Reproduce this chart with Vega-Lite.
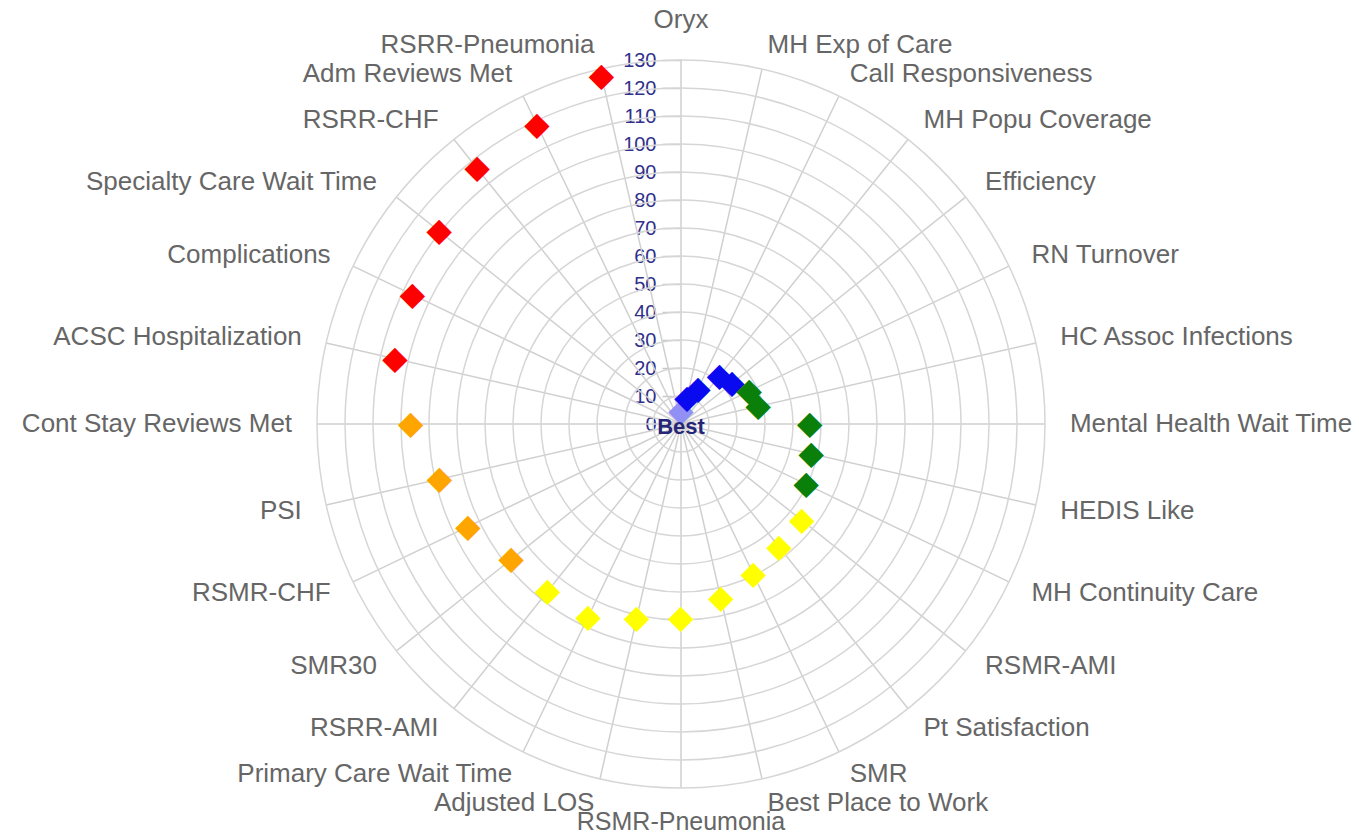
{
  "$schema": "https://vega.github.io/schema/vega-lite/v6.json",
  "width": 728,
  "height": 728,
  "autosize": {"type": "none"},
  "padding": {"left": 317, "top": 60, "right": 314, "bottom": 50},
  "background": "white",
  "config": {"view": {"stroke": null}},
  "datasets": {
    "measures": [
      {"idx": 0, "name": "Oryx", "value": 4.6, "tier": "Best"},
      {"idx": 1, "name": "MH Exp of Care", "value": 9.5, "tier": "Q1"},
      {"idx": 2, "name": "Call Responsiveness", "value": 14, "tier": "Q1"},
      {"idx": 3, "name": "MH Popu Coverage", "value": 22, "tier": "Q1"},
      {"idx": 4, "name": "Efficiency", "value": 23.3, "tier": "Q1"},
      {"idx": 5, "name": "RN Turnover", "value": 27, "tier": "Q2"},
      {"idx": 6, "name": "HC Assoc Infections", "value": 28.3, "tier": "Q2"},
      {"idx": 7, "name": "Mental Health Wait Time", "value": 46, "tier": "Q2"},
      {"idx": 8, "name": "HEDIS Like", "value": 47.7, "tier": "Q2"},
      {"idx": 9, "name": "MH Continuity Care", "value": 49.6, "tier": "Q2"},
      {"idx": 10, "name": "RSMR-AMI", "value": 55.2, "tier": "Q3"},
      {"idx": 11, "name": "Pt Satisfaction", "value": 56.3, "tier": "Q3"},
      {"idx": 12, "name": "SMR", "value": 59.6, "tier": "Q3"},
      {"idx": 13, "name": "Best Place to Work", "value": 63.9, "tier": "Q3"},
      {"idx": 14, "name": "RSMR-Pneumonia", "value": 69.4, "tier": "Q3"},
      {"idx": 15, "name": "Adjusted LOS", "value": 71.2, "tier": "Q3"},
      {"idx": 16, "name": "Primary Care Wait Time", "value": 76.4, "tier": "Q3"},
      {"idx": 17, "name": "RSRR-AMI", "value": 76.4, "tier": "Q3"},
      {"idx": 18, "name": "SMR30", "value": 77.6, "tier": "Q4"},
      {"idx": 19, "name": "RSMR-CHF", "value": 84.5, "tier": "Q4"},
      {"idx": 20, "name": "PSI", "value": 88.5, "tier": "Q4"},
      {"idx": 21, "name": "Cont Stay Reviews Met", "value": 96.5, "tier": "Q4"},
      {"idx": 22, "name": "ACSC Hospitalization", "value": 104.8, "tier": "Q5"},
      {"idx": 23, "name": "Complications", "value": 106.5, "tier": "Q5"},
      {"idx": 24, "name": "Specialty Care Wait Time", "value": 110.5, "tier": "Q5"},
      {"idx": 25, "name": "RSRR-CHF", "value": 116.8, "tier": "Q5"},
      {"idx": 26, "name": "Adm Reviews Met", "value": 118.5, "tier": "Q5"},
      {"idx": 27, "name": "RSRR-Pneumonia", "value": 127.5, "tier": "Q5"}
    ],
    "center": [{"label": "Best"}]
  },
  "layer": [
    {
      "data": {"name": "measures"},
      "mark": {"type": "arc", "filled": false, "stroke": "#d0d0d0", "strokeWidth": 1.5},
      "encoding": {
        "theta": {"field": "idx", "type": "quantitative", "stack": false, "scale": {"domain": [0, 28], "range": [0, 6.283185307179586]}},
        "theta2": {"field": "idx"},
        "radius": {"datum": 130, "type": "quantitative", "scale": {"type": "linear", "domain": [0, 130], "range": [0, 364], "nice": false, "zero": true}}
      }
    },
    {
      "data": {"name": "center"},
      "layer": [
        {"mark": {"type": "arc", "theta": 0, "theta2": 6.2832, "filled": false, "stroke": "#d6d6d6", "strokeWidth": 1.5}, "encoding": {"radius": {"datum": 10, "type": "quantitative"}}},
        {"mark": {"type": "arc", "theta": 0, "theta2": 6.2832, "filled": false, "stroke": "#d6d6d6", "strokeWidth": 1.5}, "encoding": {"radius": {"datum": 20, "type": "quantitative"}}},
        {"mark": {"type": "arc", "theta": 0, "theta2": 6.2832, "filled": false, "stroke": "#d6d6d6", "strokeWidth": 1.5}, "encoding": {"radius": {"datum": 30, "type": "quantitative"}}},
        {"mark": {"type": "arc", "theta": 0, "theta2": 6.2832, "filled": false, "stroke": "#d6d6d6", "strokeWidth": 1.5}, "encoding": {"radius": {"datum": 40, "type": "quantitative"}}},
        {"mark": {"type": "arc", "theta": 0, "theta2": 6.2832, "filled": false, "stroke": "#d6d6d6", "strokeWidth": 1.5}, "encoding": {"radius": {"datum": 50, "type": "quantitative"}}},
        {"mark": {"type": "arc", "theta": 0, "theta2": 6.2832, "filled": false, "stroke": "#d6d6d6", "strokeWidth": 1.5}, "encoding": {"radius": {"datum": 60, "type": "quantitative"}}},
        {"mark": {"type": "arc", "theta": 0, "theta2": 6.2832, "filled": false, "stroke": "#d6d6d6", "strokeWidth": 1.5}, "encoding": {"radius": {"datum": 70, "type": "quantitative"}}},
        {"mark": {"type": "arc", "theta": 0, "theta2": 6.2832, "filled": false, "stroke": "#d6d6d6", "strokeWidth": 1.5}, "encoding": {"radius": {"datum": 80, "type": "quantitative"}}},
        {"mark": {"type": "arc", "theta": 0, "theta2": 6.2832, "filled": false, "stroke": "#d6d6d6", "strokeWidth": 1.5}, "encoding": {"radius": {"datum": 90, "type": "quantitative"}}},
        {"mark": {"type": "arc", "theta": 0, "theta2": 6.2832, "filled": false, "stroke": "#d6d6d6", "strokeWidth": 1.5}, "encoding": {"radius": {"datum": 100, "type": "quantitative"}}},
        {"mark": {"type": "arc", "theta": 0, "theta2": 6.2832, "filled": false, "stroke": "#d6d6d6", "strokeWidth": 1.5}, "encoding": {"radius": {"datum": 110, "type": "quantitative"}}},
        {"mark": {"type": "arc", "theta": 0, "theta2": 6.2832, "filled": false, "stroke": "#d6d6d6", "strokeWidth": 1.5}, "encoding": {"radius": {"datum": 120, "type": "quantitative"}}},
        {"mark": {"type": "arc", "theta": 0, "theta2": 6.2832, "filled": false, "stroke": "#d6d6d6", "strokeWidth": 1.5}, "encoding": {"radius": {"datum": 130, "type": "quantitative"}}}
      ]
    },
    {
      "data": {"name": "measures"},
      "mark": {"type": "text", "font": "DejaVu Sans", "fontSize": 33, "align": "center", "baseline": "middle"},
      "encoding": {
        "theta": {"field": "idx", "type": "quantitative", "stack": false},
        "radius": {"field": "value", "type": "quantitative"},
        "text": {"value": "◆"},
        "color": {"field": "tier", "type": "nominal", "legend": null,
          "scale": {"domain": ["Best", "Q1", "Q2", "Q3", "Q4", "Q5"], "range": ["#9090f5", "#0a0af0", "#0a800a", "#ffff00", "#ffa500", "#ff0000"]}}
      }
    },
    {
      "data": {"name": "measures"},
      "transform": [{"filter": "datum.idx > 0 && datum.idx < 14"}],
      "mark": {"type": "text", "font": "Liberation Sans", "fontSize": 26, "align": "left", "baseline": "middle", "color": "#666666"},
      "encoding": {
        "theta": {"field": "idx", "type": "quantitative", "stack": false},
        "radius": {"datum": 138.9, "type": "quantitative"},
        "text": {"field": "name"}
      }
    },
    {
      "data": {"name": "measures"},
      "transform": [{"filter": "datum.idx > 14"}],
      "mark": {"type": "text", "font": "Liberation Sans", "fontSize": 26, "align": "right", "baseline": "middle", "color": "#666666"},
      "encoding": {
        "theta": {"field": "idx", "type": "quantitative", "stack": false},
        "radius": {"datum": 138.9, "type": "quantitative"},
        "text": {"field": "name"}
      }
    },
    {
      "data": {"name": "measures"},
      "transform": [{"filter": "datum.idx == 0"}],
      "mark": {"type": "text", "font": "Liberation Sans", "fontSize": 26, "align": "center", "baseline": "middle", "color": "#666666"},
      "encoding": {
        "theta": {"field": "idx", "type": "quantitative", "stack": false},
        "radius": {"datum": 144.3, "type": "quantitative"},
        "text": {"field": "name"}
      }
    },
    {
      "data": {"name": "measures"},
      "transform": [{"filter": "datum.idx == 14"}],
      "mark": {"type": "text", "font": "Liberation Sans", "fontSize": 25, "align": "center", "baseline": "middle", "color": "#666666"},
      "encoding": {
        "theta": {"field": "idx", "type": "quantitative", "stack": false},
        "radius": {"datum": 142.2, "type": "quantitative"},
        "text": {"field": "name"}
      }
    },
    {
      "data": {"name": "center"},
      "mark": {"type": "text", "font": "Liberation Sans", "fontSize": 22, "fontWeight": "bold", "color": "#262678", "align": "center", "baseline": "middle", "dy": 3},
      "encoding": {
        "text": {"field": "label"},
        "y": {"datum": 0, "type": "quantitative",
          "scale": {"domain": [-130, 130], "nice": false},
          "axis": {"values": [0, 10, 20, 30, 40, 50, 60, 70, 80, 90, 100, 110, 120, 130],
            "domain": false, "grid": false, "ticks": true, "tickSize": 19, "tickColor": "#c8c8c8", "tickWidth": 1.5,
            "labelColor": "#30308a", "labelFontSize": 20, "labelFont": "Liberation Sans", "labelPadding": 6,
            "labelOverlap": false, "labelFlush": false, "offset": -364, "title": null}}
      }
    }
  ]
}
